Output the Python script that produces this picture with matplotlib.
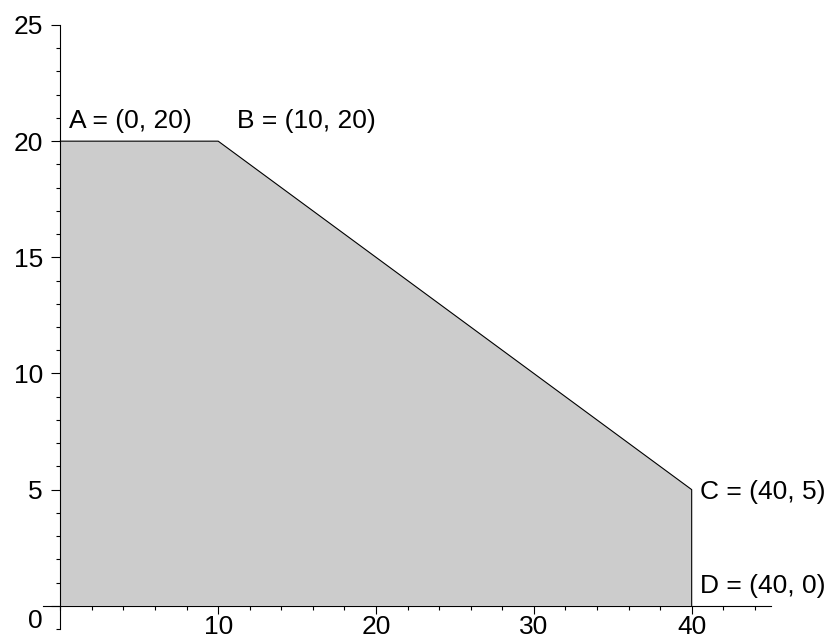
import matplotlib.pyplot as plt
import matplotlib.transforms as mtransforms
from matplotlib.ticker import MultipleLocator

plt.rcParams['font.family'] = ['Liberation Sans', 'DejaVu Sans']

# feasible region vertices
region_x = [0, 0, 10, 40, 40]
region_y = [0, 20, 20, 5, 0]

# labelled corner points and where their text sits (data coords)
point_names = ["A = (0, 20)", "B = (10, 20)", "C = (40, 5)", "D = (40, 0)"]
label_x = [0.54, 11.19, 40.52, 40.52]
label_y = [20.56, 20.56, 4.59, 0.54]

x_major = [10, 20, 30, 40]
y_major = [0, 5, 10, 15, 20, 25]

W, H = 833, 637
fig = plt.figure(figsize=(W / 100, H / 100), dpi=100)
ax = fig.add_axes([43 / W, (H - 629) / H, (770.6 - 43) / W, (629 - 25) / H])

ax.fill(region_x, region_y, facecolor='#cccccc', edgecolor='none', zorder=1)
# outline: A -> B -> C -> D
ax.plot(region_x[1:], region_y[1:], color='black', linewidth=0.8, zorder=2)

for name, tx, ty in zip(point_names, label_x, label_y):
    ax.text(tx, ty, name, fontsize=19, ha='left', va='baseline')

ax.set_xlim(-1.1, 45)
ax.set_ylim(-1, 25)

ax.spines['left'].set_position(('data', 0))
ax.spines['bottom'].set_position(('data', 0))
ax.spines['right'].set_visible(False)
ax.spines['top'].set_visible(False)
for s in ('left', 'bottom'):
    ax.spines[s].set_linewidth(0.8)
    ax.spines[s].set_zorder(3)

ax.set_xticks(x_major)
ax.set_yticks(y_major)
ax.xaxis.set_minor_locator(MultipleLocator(2))
ax.yaxis.set_minor_locator(MultipleLocator(1))
ax.tick_params(axis='x', which='major', direction='out', length=5.5, width=0.8,
               labelsize=19, pad=1)
ax.tick_params(axis='y', which='major', direction='out', length=6.5, width=0.8,
               labelsize=19, pad=6)
ax.tick_params(which='minor', direction='out', length=3, width=0.8)

# Maple puts the "0" label a bit below the axis
for lbl in ax.get_yticklabels():
    if lbl.get_text() == '0':
        lbl.set_transform(lbl.get_transform() +
                          mtransforms.ScaledTranslation(0, -13 / 100, fig.dpi_scale_trans))

fig.savefig('out.png', dpi=100)
